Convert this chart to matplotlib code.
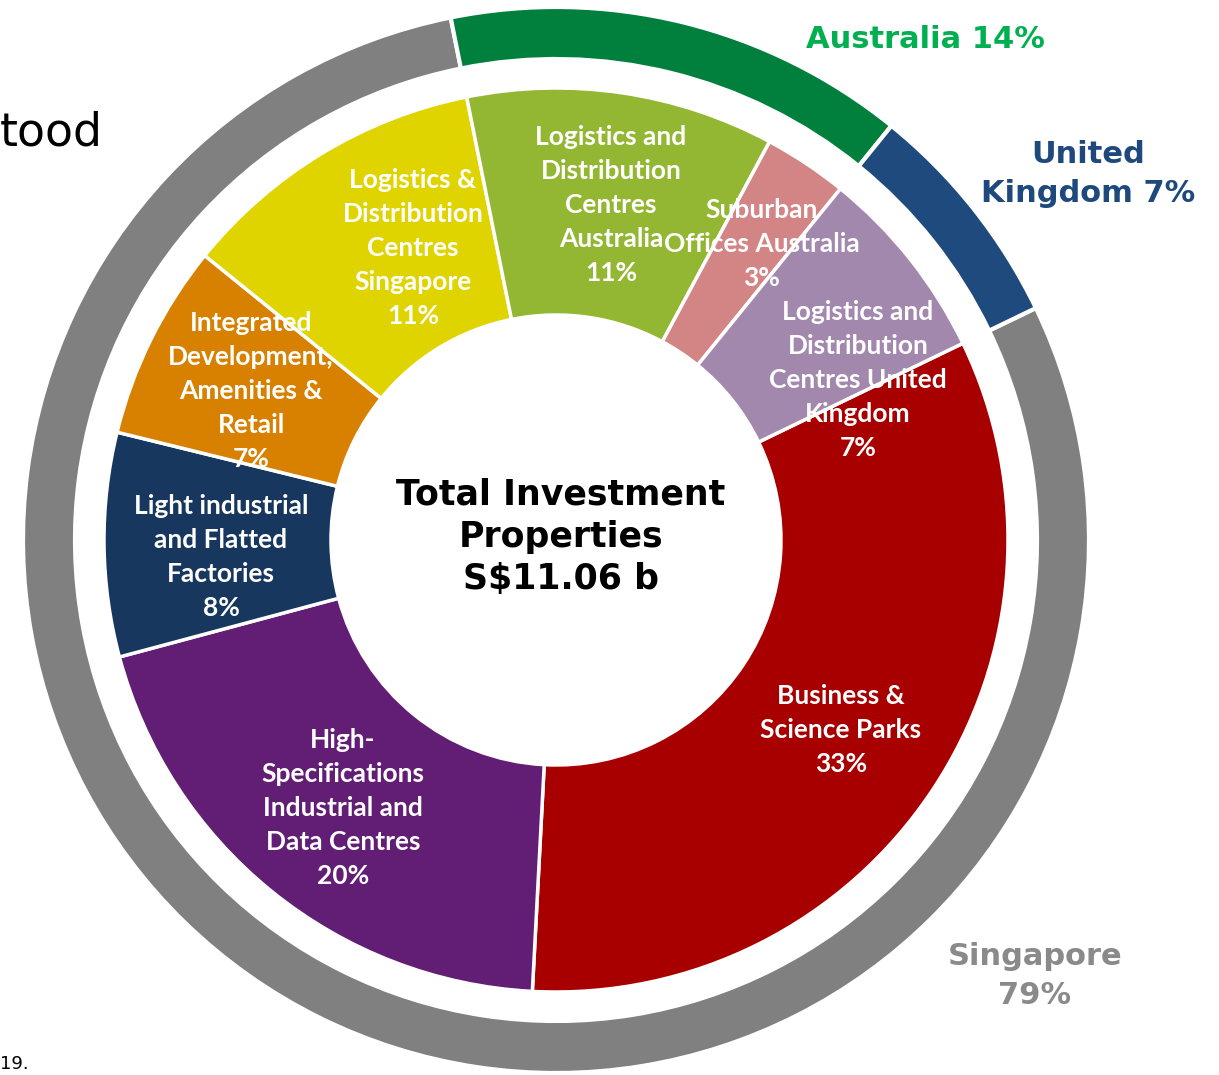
import matplotlib.pyplot as plt

# ---------------- DATA ----------------
region_labels = ["Singapore\n79%", "Australia 14%", "United\nKingdom 7%"]
region_values = [79, 14, 7]

segment_labels = [
    "Business &\nScience Parks\n33%",
    "High-\nSpecifications\nIndustrial and\nData Centres\n20%",
    "Light industrial\nand Flatted\nFactories\n8%",
    "Integrated\nDevelopment,\nAmenities &\nRetail\n7%",
    "Logistics &\nDistribution\nCentres\nSingapore\n11%",
    "Logistics and\nDistribution\nCentres\nAustralia\n11%",
    "Suburban\nOffices Australia\n3%",
    "Logistics and\nDistribution\nCentres United\nKingdom\n7%",
]
segment_values = [33, 20, 8, 7, 11, 11, 3, 7]

center_text = "Total Investment\nProperties\nS$11.06 b"

# ---------------- STYLE ----------------
region_colors = ["#808080", "#00803C", "#1F4A7E"]
region_text_colors = ["#8A8A8A", "#00B050", "#1F497D"]
segment_colors = ["#A80000", "#621D74", "#17375E", "#D88100",
                  "#E0D400", "#94B733", "#D38585", "#A388AE"]

# pixel geometry of the reference
CX, CY, R = 556, 540, 533
W, H = 1219, 1075


def px(x, y):
    return (x - CX) / R, (CY - y) / R


segment_pos = [(841, 730), (343, 808), (221, 557), (251, 391),
               (413, 248), (611, 205), (762, 244), (858, 380)]
region_pos = [(1035, 976), (925, 40), (1088, 174)]

# ---------------- PLOT ----------------
fig = plt.figure(figsize=(W / 100, H / 100), dpi=100)
ax = fig.add_axes([0, 0, 1, 1])

start = 25.8

ax.pie(region_values, radius=1.0, colors=region_colors,
       startangle=start, counterclock=False,
       wedgeprops=dict(width=(R - 481) / R, edgecolor="white", linewidth=3))

ax.pie(segment_values, radius=452 / R, colors=segment_colors,
       startangle=start, counterclock=False,
       wedgeprops=dict(width=(452 - 225) / R, edgecolor="white", linewidth=2.5))

for lab, (x, y) in zip(segment_labels, segment_pos):
    ax.text(*px(x, y), lab, ha="center", va="center", color="white",
            fontsize=19, fontweight="bold", family="Lato", linespacing=1.5)

for lab, col, (x, y) in zip(region_labels, region_text_colors, region_pos):
    ax.text(*px(x, y), lab, ha="center", va="center", color=col,
            fontsize=22, fontweight="bold", family="DejaVu Sans", linespacing=1.45)

ax.text(*px(561, 537), center_text, ha="center", va="center", color="black",
        fontsize=25, fontweight="bold", family="DejaVu Sans", linespacing=1.3)

# cropped fragments of the original slide
ax.text(*px(0, 133), "tood", ha="left", va="center", fontsize=33,
        family="DejaVu Sans", color="black")
ax.text(*px(0, 1064), "19.", ha="left", va="center", fontsize=13,
        family="DejaVu Sans", color="black")

ax.set_xlim(-CX / R, (W - CX) / R)
ax.set_ylim(-(H - CY) / R, CY / R)
ax.set_aspect("equal")
ax.axis("off")

plt.savefig("out.png", dpi=100)
